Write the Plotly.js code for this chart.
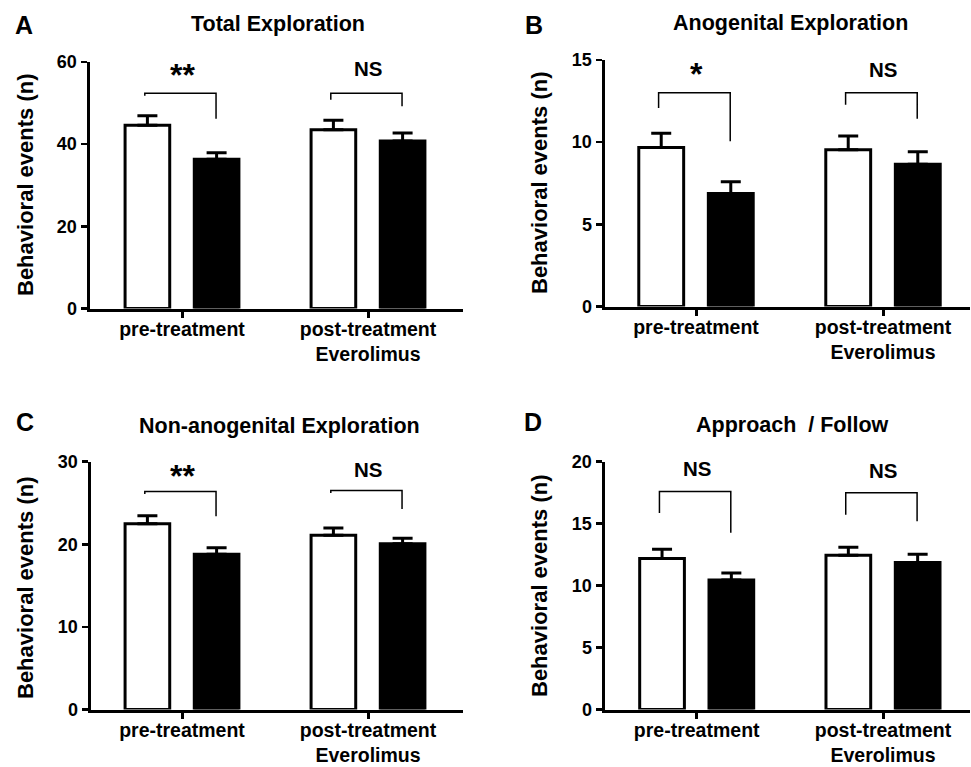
<!DOCTYPE html>
<html>
<head>
<meta charset="utf-8">
<script src="https://cdn.plot.ly/plotly-3.0.1.min.js"></script>
<style>html,body{margin:0;padding:0;background:#fff;}#chart{width:971px;height:767px;}</style>
</head>
<body>
<div id="chart"></div>
<script>
// ---------- DATA ----------
const categories = ['pre-treatment', 'post-treatment<br>Everolimus'];
const panelLetters = ['A', 'B', 'C', 'D'];
const panelTitles = ['Total Exploration', 'Anogenital Exploration', 'Non-anogenital Exploration', 'Approach  / Follow'];
const yAxisTitle = 'Behavioral events (n)';

// open bars (white)
const openA = [44.6, 43.5];
const openB = [9.67, 9.54];
const openC = [22.5, 21.1];
const openD = [12.18, 12.45];
const openErrA = [2.3, 2.3];
const openErrB = [0.87, 0.83];
const openErrC = [0.97, 0.88];
const openErrD = [0.75, 0.64];

// filled bars (black)
const filledA = [36.3, 40.8];
const filledB = [6.88, 8.66];
const filledC = [18.8, 20.07];
const filledD = [10.45, 11.86];
const filledErrA = [1.6, 1.9];
const filledErrB = [0.71, 0.76];
const filledErrC = [0.79, 0.65];
const filledErrD = [0.56, 0.67];

// significance brackets: [pre, post]
const bracketTopA = [52.4, 52.4], bracketLeftA = [51.8, 50.8], bracketRightA = [46.2, 49.2];
const bracketTopB = [13.0, 13.0], bracketLeftB = [12.08, 12.28], bracketRightB = [10.06, 11.43];
const bracketTopC = [26.4, 26.5], bracketLeftC = [26.1, 26.2], bracketRightC = [23.4, 24.27];
const bracketTopD = [17.6, 17.5], bracketLeftD = [15.86, 15.72], bracketRightD = [14.26, 15.19];

const sigTextA = ['**', 'NS'], sigYA = [57.8, 58.5];
const sigTextB = ['*', 'NS'], sigYB = [14.4, 14.45];
const sigTextC = ['**', 'NS'], sigYC = [28.8, 29.0];
const sigTextD = ['NS', 'NS'], sigYD = [19.47, 19.33];

const yTicksA = [0, 20, 40, 60];
const yTicksB = [0, 5, 10, 15];
const yTicksC = [0, 10, 20, 30];
const yTicksD = [0, 5, 10, 15, 20];

// ---------- BUILD ----------
const W = 971, H = 767;
const FONT = '"Liberation Sans", Arial, Helvetica, sans-serif';
const px = x => x / W;
const py = y => 1 - y / H;

const panels = [
  {open: openA, openErr: openErrA, filled: filledA, filledErr: filledErrA, bTop: bracketTopA, bL: bracketLeftA, bR: bracketRightA, sig: sigTextA, sigY: sigYA, ticks: yTicksA,
   dom: {x0: 89.5, x1: 463, y0: 62, y1: 308.5}, cat0: 182, unit: 186,
   letter: [24, 25], title: [277.5, 24], ytitle: [25, 185]},
  {open: openB, openErr: openErrB, filled: filledB, filledErr: filledErrB, bTop: bracketTopB, bL: bracketLeftB, bR: bracketRightB, sig: sigTextB, sigY: sigYB, ticks: yTicksB,
   dom: {x0: 604.5, x1: 970, y0: 60, y1: 306.5}, cat0: 696, unit: 187,
   letter: [534, 25], title: [790, 23], ytitle: [539, 183]},
  {open: openC, openErr: openErrC, filled: filledC, filledErr: filledErrC, bTop: bracketTopC, bL: bracketLeftC, bR: bracketRightC, sig: sigTextC, sigY: sigYC, ticks: yTicksC,
   dom: {x0: 90.5, x1: 463, y0: 461.7, y1: 709.5}, cat0: 182, unit: 186,
   letter: [25, 422], title: [279, 426], ytitle: [25, 588]},
  {open: openD, openErr: openErrD, filled: filledD, filledErr: filledErrD, bTop: bracketTopD, bL: bracketLeftD, bR: bracketRightD, sig: sigTextD, sigY: sigYD, ticks: yTicksD,
   dom: {x0: 604.5, x1: 970, y0: 461.7, y1: 709.5}, cat0: 696.7, unit: 186.3,
   letter: [533, 422], title: [792, 425], ytitle: [539, 586]}
];

const catX = categories.map((c, i) => i);
const BAR_W = 0.24, OPEN_OFF = -0.306, FILLED_OFF = 0.066;
const BR_L = -0.2, BR_R = 0.183;

const data = [];
const layout = {
  width: W, height: H,
  margin: {l: 0, r: 0, t: 0, b: 0},
  paper_bgcolor: '#fff', plot_bgcolor: 'rgba(0,0,0,0)',
  showlegend: false, barmode: 'overlay',
  font: {family: FONT, color: '#000'},
  annotations: []
};

panels.forEach((p, i) => {
  const n = i === 0 ? '' : String(i + 1);
  const xa = 'x' + n, ya = 'y' + n;
  const base = {
    type: 'bar', x: catX, width: BAR_W, xaxis: xa, yaxis: ya, hoverinfo: 'y',
    marker: {line: {color: '#000', width: 3}}
  };
  data.push(Object.assign({}, base, {
    y: p.open, offset: OPEN_OFF,
    marker: {color: '#fff', line: {color: '#000', width: 3}},
    error_y: {type: 'data', symmetric: false, array: p.openErr, arrayminus: p.openErr.map(() => 0), thickness: 3, width: 10, color: '#000'}
  }));
  data.push(Object.assign({}, base, {
    y: p.filled, offset: FILLED_OFF,
    marker: {color: '#000', line: {color: '#000', width: 3}},
    error_y: {type: 'data', symmetric: false, array: p.filledErr, arrayminus: p.filledErr.map(() => 0), thickness: 3, width: 10, color: '#000'}
  }));
  catX.forEach((c, k) => {
    data.push({
      type: 'scatter', mode: 'lines', xaxis: xa, yaxis: ya, hoverinfo: 'skip',
      x: [c + BR_L, c + BR_L, c + BR_R, c + BR_R],
      y: [p.bL[k], p.bTop[k], p.bTop[k], p.bR[k]],
      line: {color: '#000', width: 1.5}, cliponaxis: false
    });
    const isStar = p.sig[k].indexOf('*') >= 0;
    layout.annotations.push({
      xref: xa, yref: ya, x: c, y: p.sigY[k], text: p.sig[k], showarrow: false,
      xanchor: 'center', yanchor: 'middle', yshift: isStar ? -4 : 0,
      font: {family: FONT, size: isStar ? 32 : 20.5, weight: 'bold', color: '#000'}
    });
  });

  const yMax = p.ticks[p.ticks.length - 1];
  layout['xaxis' + n] = {
    domain: [px(p.dom.x0), px(p.dom.x1)], anchor: ya,
    range: [(p.dom.x0 - p.cat0) / p.unit, (p.dom.x1 - p.cat0) / p.unit],
    tickmode: 'array', tickvals: catX, ticktext: categories,
    ticks: 'outside', ticklen: 6, tickwidth: 3, tickcolor: '#000',
    ticklabelstandoff: -5,
    showline: true, linewidth: 3, linecolor: '#000',
    showgrid: false, zeroline: false, fixedrange: true,
    tickfont: {family: FONT, size: 19.5, weight: 'bold', color: '#000'}
  };
  layout['yaxis' + n] = {
    domain: [py(p.dom.y1), py(p.dom.y0)], anchor: xa,
    range: [0, yMax],
    tickmode: 'array', tickvals: p.ticks,
    ticks: 'outside', ticklen: 6, tickwidth: 2.5, tickcolor: '#000',
    showline: true, linewidth: 3, linecolor: '#000',
    showgrid: false, zeroline: false, fixedrange: true,
    tickfont: {family: FONT, size: 18, weight: 'bold', color: '#000'}
  };

  layout.annotations.push({
    xref: 'paper', yref: 'paper', x: px(p.letter[0]), y: py(p.letter[1]),
    text: panelLetters[i], showarrow: false, xanchor: 'center', yanchor: 'middle',
    font: {family: FONT, size: 25, weight: 'bold', color: '#000'}
  });
  layout.annotations.push({
    xref: 'paper', yref: 'paper', x: px(p.title[0]), y: py(p.title[1]),
    text: panelTitles[i], showarrow: false, xanchor: 'center', yanchor: 'middle',
    font: {family: FONT, size: 21.5, weight: 'bold', color: '#000'}
  });
  layout.annotations.push({
    xref: 'paper', yref: 'paper', x: px(p.ytitle[0]), y: py(p.ytitle[1]),
    text: yAxisTitle, showarrow: false, xanchor: 'center', yanchor: 'middle', textangle: -90,
    font: {family: FONT, size: 22, weight: 'bold', color: '#000'}
  });
});

Plotly.newPlot('chart', data, layout, {staticPlot: true, displayModeBar: false});
</script>
</body>
</html>
